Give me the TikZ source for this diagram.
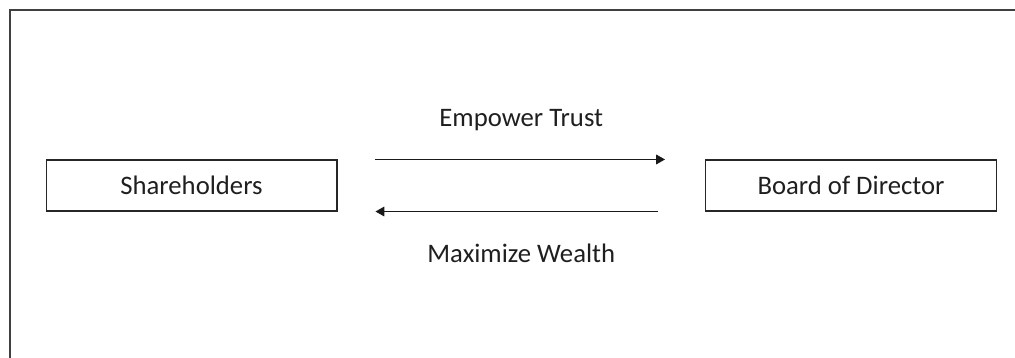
\documentclass[tikz,border=0pt]{standalone}
\usepackage{fontspec}
\setmainfont{Carlito}
\usetikzlibrary{arrows.meta}

\tikzset{
	party/.style={draw=black!85, line width=0.6pt, minimum width=5.82cm, minimum height=1.02cm,
		text=black!88, font=\fontsize{15.2}{18}\selectfont},
	flow/.style={draw=black!90, line width=0.6pt, -{Triangle[length=5pt,width=5.5pt]},
		shorten <=0.76cm, shorten >=0.8cm},
	tag/.style={text=black!88, font=\fontsize{15.2}{18}\selectfont}
}

\begin{document}
\begin{tikzpicture}[x=0.02cm, y=-0.02cm]
		\useasboundingbox (0,0) rectangle (1015,358);
		% outer frame, open at the bottom and right
		\draw [black!75, line width=1.1pt] (10,358) -- (10,10) -- (1015,10);
		\node [party] (share) at (191.5,185.5) {Shareholders};
		\node [party] (board) at (851,185.5) {Board of Director};
		\draw [flow] (share.north east) -- (board.north west)
			node [tag, midway, above=0.44cm] (trust) {Empower Trust};
		\draw [flow, shorten <=0.94cm, shorten >=0.76cm] (board.south west) -- (share.south east)
			node [tag, midway, below=0.52cm] (wealth) {Maximize Wealth};
	\end{tikzpicture}
\end{document}
